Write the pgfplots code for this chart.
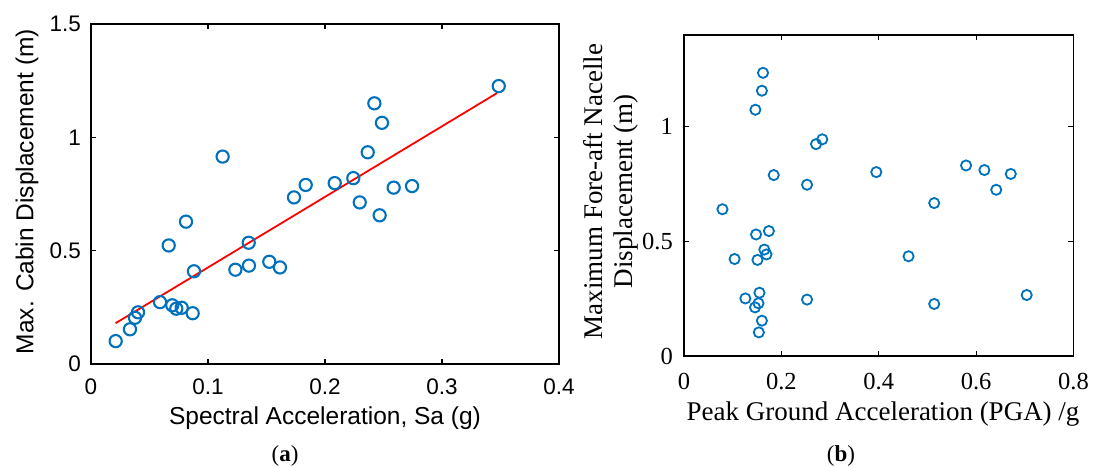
\documentclass[border=0pt]{standalone}
\usepackage{fontspec}
\setmainfont{Liberation Serif}
\newfontfamily\arial{Liberation Sans}
\usepackage{pgfplots}
\pgfplotsset{compat=1.18}
\definecolor{mblue}{RGB}{0,114,189}

\begin{document}
\begin{tikzpicture}[x=1pt,y=1pt]
\useasboundingbox (0,0) rectangle (1104,466);
% ---------------- panel (a) ----------------
\begin{axis}[
  at={(91pt,102pt)}, anchor=south west,
  scale only axis, width=468pt, height=340pt,
  xmin=0, xmax=0.4, ymin=0, ymax=1.5,
  xtick={0,0.1,0.2,0.3,0.4}, xticklabels={0,0.1,0.2,0.3,0.4},
  ytick={0,0.5,1,1.5}, yticklabels={0,0.5,1,1.5},
  tick align=inside, major tick length=5pt,
  axis line style={line width=1.5pt},
  every tick/.style={line width=1.3pt, black},
  tick label style={font=\arial\fontsize{22.5}{26}\selectfont},
  xticklabel style={anchor=north, inner sep=0pt, yshift=-15pt},
  yticklabel style={anchor=east, inner sep=0pt, xshift=-10pt},
  label style={font=\arial\fontsize{24.5}{29}\selectfont, inner sep=0pt},
  xlabel={Spectral Acceleration, Sa (g)},
  xlabel style={at={(axis description cs:0.5,-0.1265)}, anchor=north},
  ylabel={Max. Cabin Displacement (m)},
  ylabel style={at={(axis description cs:-0.1229,0.507)}, anchor=base},
]
\addplot[red, line width=1.8pt] coordinates {(0.021,0.180) (0.347,1.195)};
\addplot[only marks, mark=o, mark size=6.1pt, mark options={line width=2.1pt, draw=mblue}] coordinates {
(0.0211,0.101) (0.0333,0.153) (0.0376,0.204) (0.0402,0.228) (0.0590,0.273)
(0.0664,0.523) (0.0695,0.259) (0.0729,0.244) (0.0775,0.248) (0.0869,0.224)
(0.0812,0.628) (0.0880,0.409) (0.1125,0.915) (0.1234,0.416) (0.1348,0.535)
(0.1350,0.434) (0.1524,0.451) (0.1615,0.426) (0.1735,0.735) (0.1835,0.790)
(0.2083,0.798) (0.2242,0.820) (0.2297,0.713) (0.2365,0.934) (0.2422,1.150)
(0.2487,1.064) (0.2467,0.656) (0.2587,0.778) (0.2744,0.785) (0.3485,1.226)
};
\end{axis}
% ---------------- panel (b) ----------------
\begin{axis}[
  at={(684pt,110pt)}, anchor=south west,
  scale only axis, width=389.5pt, height=321pt,
  xmin=0, xmax=0.8, ymin=0, ymax=1.4,
  xtick={0,0.2,0.4,0.6,0.8}, xticklabels={0,0.2,0.4,0.6,0.8},
  ytick={0,0.5,1}, yticklabels={0,0.5,1},
  tick align=inside, major tick length=5pt,
  axis line style={line width=1.4pt},
  every tick/.style={line width=1.2pt, black},
  tick label style={font=\fontsize{24.5}{28}\selectfont},
  xticklabel style={anchor=north, inner sep=0pt, yshift=-17pt},
  yticklabel style={anchor=east, inner sep=0pt, xshift=-11pt},
  label style={font=\fontsize{27}{29.2}\selectfont, inner sep=0pt},
  xlabel={Peak Ground Acceleration (PGA) /g},
  xlabel style={at={(axis description cs:0.511,-0.1433)}, anchor=north},
  ylabel={Maximum Fore-aft Nacelle\\Displacement (m)},
  ylabel style={at={(axis description cs:-0.188,0.513)}, anchor=center, align=center},
]
\addplot[only marks, mark=o, mark size=5.1pt, mark options={line width=1.8pt, draw=mblue}] coordinates {
(0.1623,1.235) (0.1600,1.157) (0.1466,1.074) (0.2712,0.924) (0.2840,0.945)
(0.1843,0.789) (0.2527,0.747) (0.3950,0.802) (0.5794,0.831) (0.6170,0.811)
(0.6413,0.725) (0.6712,0.794) (0.5139,0.667) (0.0790,0.640) (0.1480,0.530)
(0.1744,0.545) (0.1650,0.464) (0.1694,0.443) (0.1509,0.419) (0.1039,0.423)
(0.4612,0.435) (0.1550,0.276) (0.1260,0.251) (0.2527,0.246) (0.1530,0.230)
(0.1459,0.212) (0.1600,0.154) (0.1537,0.103) (0.5139,0.227) (0.7039,0.266)
};
\end{axis}
% ---------------- captions ----------------
\node[font=\fontsize{23}{27}\selectfont] at (285,10) {(\textbf{a})};
\node[font=\fontsize{23}{27}\selectfont] at (841,10) {(\textbf{b})};
\end{tikzpicture}
\end{document}
